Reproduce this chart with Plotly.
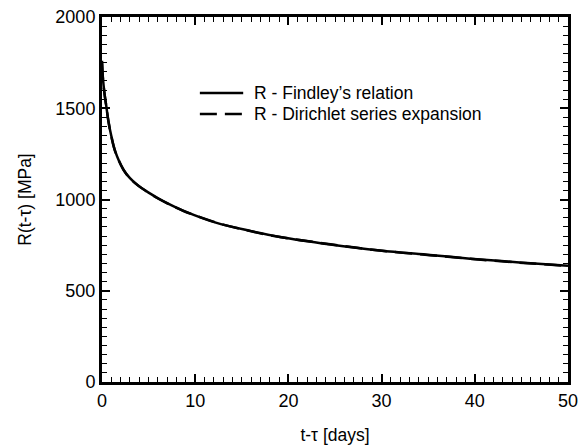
import plotly.graph_objects as go

# Relaxation function R(t - tau) in MPa versus elapsed time in days
t_days = [0.0, 0.1, 0.25, 0.46, 0.71, 1.0, 1.43, 2.3, 3.0, 3.9, 5.18, 6.07, 7.7, 8.75,
          12.3, 15.9, 19.1, 24.5, 29.8, 35.2, 39.5, 44.8, 50.0]
r_findley = [1760, 1665, 1588, 1512, 1422, 1348, 1262, 1163, 1117, 1075, 1032, 1005, 962, 938,
             872, 828, 795, 754, 721, 696, 676, 655, 637]
r_dirichlet = [1750, 1662, 1587, 1510, 1423, 1346, 1261, 1164, 1116, 1076, 1031, 1004, 961, 937,
               873, 827, 794, 755, 720, 695, 675, 654, 636]

series_names = ["R - Findley\u2019s relation", "R - Dirichlet series expansion"]
series_dash = ["solid", "17px,8px"]

x_ticks = [0, 10, 20, 30, 40, 50]
y_ticks = [0, 500, 1000, 1500, 2000]

family = "Liberation Sans, Arial, sans-serif"
tick_font = dict(family=family, size=18, color="black")
text_font = dict(family=family, size=17.5, color="black")

fig = go.Figure()
for y_vals, name, dash in zip([r_findley, r_dirichlet], series_names, series_dash):
    fig.add_trace(go.Scatter(
        x=t_days, y=y_vals, mode="lines", line_shape="spline",
        line=dict(color="black", width=2.5, dash=dash),
        name=name, showlegend=False,
    ))

# Hand-placed legend: sample line plus label for each series
legend_rows_y = [0.792, 0.734]
for row_y, name, dash in zip(legend_rows_y, series_names, series_dash):
    fig.add_shape(type="line", xref="paper", yref="paper",
                  x0=0.210, x1=0.303, y0=row_y, y1=row_y,
                  line=dict(color="black", width=2.5, dash=dash))
    fig.add_annotation(xref="paper", yref="paper", x=0.322, y=row_y,
                       xanchor="left", yanchor="middle", showarrow=False,
                       text=name, font=text_font)

axis_common = dict(
    showline=True, linecolor="black", linewidth=3, mirror="ticks",
    ticks="inside", ticklen=8, tickwidth=1.5, tickcolor="black",
    showgrid=False, zeroline=False, tickfont=tick_font, automargin=False,
)

fig.update_xaxes(
    range=[0, 50], tickvals=x_ticks, ticktext=[str(v) for v in x_ticks],
    minor=dict(dtick=1, ticks="inside", ticklen=5, tickwidth=1, tickcolor="black"),
    title=dict(text="t-\u03c4 [days]", font=text_font, standoff=20),
    **axis_common,
)
fig.update_yaxes(
    range=[0, 2000], tickvals=y_ticks, ticktext=[str(v) for v in y_ticks],
    minor=dict(dtick=50, ticks="inside", ticklen=5, tickwidth=1, tickcolor="black"),
    title=dict(text="R(t-\u03c4) [MPa]", font=text_font, standoff=20),
    **axis_common,
)

fig.update_layout(
    width=580, height=445,
    margin=dict(l=102, r=12, t=17, b=63),
    paper_bgcolor="white", plot_bgcolor="white",
    font=text_font,
    showlegend=False,
)

fig.write_html("out.html")
